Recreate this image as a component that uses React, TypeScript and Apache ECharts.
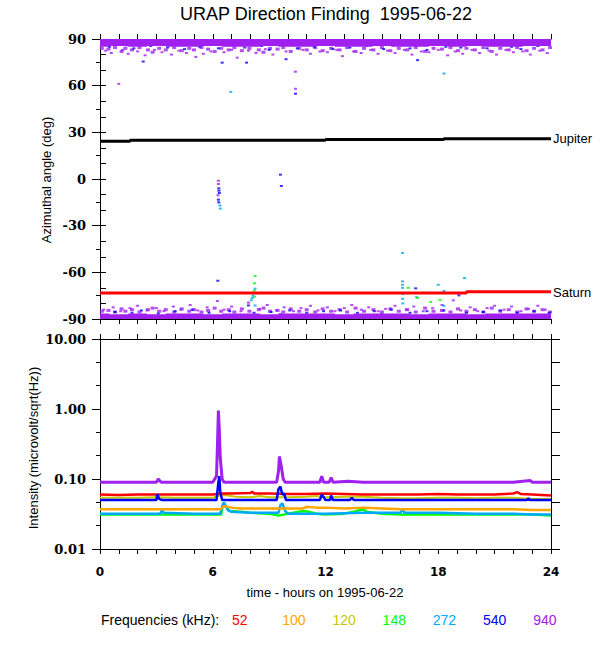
import React, { useEffect, useRef } from "react";
import * as echarts from "echarts";

// ---------------- data ----------------
const hourTicks = [0, 6, 12, 18, 24];
const freqLabels = ["52", "100", "120", "148", "272", "540", "940"];

// dense purple core near +90: lower edge of the band per hour
const topCoreEdge = [
  [0, 85], [1, 85.5], [2, 85], [3, 85.5], [4, 85], [5, 85], [6, 85.5], [7, 85], [8, 85],
  [9, 85.5], [10, 85], [11, 85], [12, 85.5], [13, 85], [14, 85], [15, 85.5], [16, 85],
  [17, 85], [18, 85.5], [19, 85], [20, 85.5], [21, 85], [22, 85], [23, 85.5], [24, 85.5],
];
// dense purple core near -90: upper edge of the band per hour
const botCoreEdge = [
  [0, -86.5], [1, -87], [2, -86.5], [3, -87], [4, -86.5], [5, -86.5], [6, -87], [7, -86.5],
  [8, -86.5], [9, -87], [10, -86.5], [11, -86.5], [12, -86.5], [13, -87], [14, -86.5],
  [15, -86.5], [16, -86.5], [17, -87], [18, -86.5], [19, -86.5], [20, -87], [21, -86.5],
  [22, -86.5], [23, -86.5], [24, -86.5],
];
const topPurpleNear = [
  [0.1, 84], [0.45, 83.5], [0.8, 84.5], [1.15, 82], [1.35, 84], [1.7, 83], [2.1, 84.5],
  [2.55, 83], [2.8, 81.5], [3.15, 84], [3.5, 83], [3.95, 84.5], [4.35, 82.5], [4.75, 84],
  [5.0, 83], [5.4, 84.5], [5.75, 83.5], [6.1, 82], [6.45, 84], [6.85, 83], [7.15, 84.5],
  [7.55, 82.5], [7.95, 84], [8.45, 83], [8.7, 81.5], [9.05, 84], [9.45, 83.5], [9.75, 84.5],
  [10.15, 82], [10.6, 84], [11.0, 83], [11.45, 84.5], [11.85, 82.5], [12.3, 84], [12.75, 83],
  [13.15, 84.5], [13.6, 82], [14.05, 84], [14.55, 83], [15.0, 84.5], [15.45, 82.5], [15.9, 84],
  [16.35, 83], [16.8, 84.5], [17.3, 82], [17.75, 84], [18.2, 83.5], [18.65, 84.5], [19.05, 82.5],
  [19.5, 84], [19.95, 83], [20.4, 84.5], [20.85, 82], [21.3, 84], [21.75, 83], [22.2, 84.5],
  [22.7, 82.5], [23.1, 84], [23.55, 83], [23.95, 84.5],
];
const topPurpleFringe = [
  [0.3, 82.5], [0.6, 81], [1.0, 61.2], [1.2, 83], [1.5, 80.5], [2.0, 82], [2.4, 79.5], [2.9, 83],
  [3.3, 81.5], [3.8, 80], [4.2, 82.5], [4.6, 81], [5.1, 78.5], [5.5, 80.5], [5.9, 82], [6.6, 81.5],
  [7.0, 83], [7.3, 78], [7.9, 82.5], [8.3, 81], [8.8, 83.5], [9.2, 80], [9.9, 82], [10.4, 69],
  [10.4, 58], [10.8, 83], [11.2, 80.5], [11.7, 82], [12.1, 81.5], [12.6, 83], [12.9, 79],
  [13.5, 82], [13.9, 81], [14.4, 83], [14.8, 80.5], [15.3, 82.5], [15.7, 81], [16.2, 83],
  [16.6, 80], [17.1, 82], [17.5, 81.5], [18.0, 83], [18.5, 79.5], [18.9, 82], [19.3, 80.5],
  [19.8, 83], [20.2, 81], [20.7, 82.5], [21.1, 80], [21.6, 83], [22.0, 81.5], [22.5, 82],
  [22.9, 80], [23.4, 82.5], [23.8, 81],
];
const topBlue = [
  [0.2, 87], [0.5, 85], [0.9, 88.5], [1.4, 86], [1.8, 84], [2.2, 87.5], [2.3, 75.5], [2.7, 85.5],
  [3.1, 88], [3.6, 84.5], [4.0, 86.5], [4.5, 83.5], [4.9, 88], [5.3, 85], [5.8, 87], [6.3, 84],
  [6.5, 74.8], [6.8, 86], [7.2, 88.5], [7.7, 84.5], [7.8, 74.8], [8.1, 87], [8.6, 85.5],
  [9.0, 83], [9.4, 88], [9.9, 77], [10.0, 86], [10.4, 54.8], [10.5, 84], [10.9, 87.5],
  [11.4, 85], [11.9, 88], [12.4, 83.5], [12.8, 86.5], [13.3, 84.5], [13.7, 88], [14.2, 85.5],
  [14.7, 87], [15.1, 83.5], [15.6, 86], [16.0, 88.5], [16.5, 84], [16.9, 76.4], [17.0, 86.5],
  [17.4, 83], [17.9, 87.5], [18.4, 85], [18.8, 88], [19.2, 84.5], [19.7, 86.5], [20.1, 88],
  [20.6, 84], [21.0, 86], [21.5, 87.5], [21.9, 85], [22.4, 83.5], [22.8, 87], [23.3, 85.5],
  [23.7, 88],
];
const botPurpleNear = [
  [0.1, -85], [0.45, -84.5], [0.8, -85.5], [1.15, -83.5], [1.35, -85], [1.7, -84], [2.1, -85.5],
  [2.55, -84], [2.8, -83], [3.15, -85], [3.5, -84], [3.95, -85.5], [4.35, -83.5], [4.75, -85],
  [5.0, -84], [5.4, -85.5], [5.75, -84.5], [6.1, -83], [6.45, -85], [6.85, -84], [7.15, -85.5],
  [7.55, -83.5], [7.95, -85], [8.45, -84], [8.7, -83], [9.05, -85], [9.45, -84.5], [9.75, -85.5],
  [10.15, -83.5], [10.6, -85], [11.0, -84], [11.45, -85.5], [11.85, -83.5], [12.3, -85],
  [12.75, -84], [13.15, -85.5], [13.6, -83], [14.05, -85], [14.55, -84], [15.0, -85.5],
  [15.45, -83.5], [15.9, -85], [16.35, -84], [16.8, -85.5], [17.3, -83], [17.75, -85],
  [18.2, -84.5], [18.65, -85.5], [19.05, -83.5], [19.5, -85], [19.95, -84], [20.4, -85.5],
  [20.85, -83], [21.3, -85], [21.75, -84], [22.2, -85.5], [22.7, -83.5], [23.1, -85],
  [23.55, -84], [23.95, -85.5],
];
const botPurpleFringe = [
  [0.2, -84], [0.7, -82.5], [1.1, -85], [1.6, -83], [2.0, -81.5], [2.5, -84.5], [3.0, -83],
  [3.4, -85], [3.9, -82], [4.3, -84], [4.8, -81], [5.2, -84.5], [5.7, -82.5], [6.25, -78.4],
  [6.6, -84], [7.0, -82], [7.5, -85], [7.9, -79.5], [8.5, -83.5], [8.9, -81], [9.4, -84.5],
  [9.8, -82.5], [10.3, -85], [10.7, -83], [11.2, -81.5], [11.6, -84.5], [12.1, -82.5],
  [12.5, -85], [13.0, -83], [13.4, -81], [13.9, -84], [14.3, -82.5], [14.8, -85], [15.2, -83.5],
  [15.7, -81.5], [16.3, -84], [16.7, -82], [17.2, -85], [17.7, -83], [18.2, -81], [18.8, -78],
  [19.2, -84.5], [19.7, -82.5], [20.1, -85], [20.6, -83], [21.0, -81.5], [21.5, -84],
  [21.9, -82], [22.4, -85], [22.8, -83.5], [23.3, -81.5], [23.7, -84],
];
const botBlue = [
  [0.3, -87.5], [0.8, -85.5], [1.3, -88.5], [1.7, -86], [2.2, -84.5], [2.6, -88], [3.1, -86.5],
  [3.5, -89], [4.0, -85], [4.4, -87.5], [4.9, -84], [5.4, -88], [5.8, -86], [6.27, -65.4],
  [6.4, -88.5], [6.9, -85], [7.3, -87.5], [7.9, -81.3], [8.2, -86], [8.7, -88.5], [9.1, -85.5],
  [9.6, -87], [10.1, -84.5], [10.5, -88], [11.0, -86], [11.4, -89], [11.9, -85], [12.3, -87.5],
  [12.8, -84.5], [13.2, -88], [13.7, -86], [14.1, -88.5], [14.6, -85], [15.0, -87], [15.5, -84],
  [16.0, -88], [16.5, -86], [16.8, -70.3], [17.0, -88.5], [17.4, -85], [17.9, -87.5],
  [18.3, -84.5], [18.7, -88], [19.1, -74.8], [19.5, -86], [20.0, -88.5], [20.4, -85.5],
  [20.9, -87.5], [21.3, -84.5], [21.8, -88], [22.2, -86], [22.7, -88.5], [23.1, -85],
  [23.6, -87.5], [23.9, -86],
];
const midPurple = [[6.3, -1.1], [6.3, -3.2], [6.28, -10.5]];
const midBlue = [
  [6.32, -6], [6.33, -7.5], [6.35, -9], [6.3, -13.3], [6.32, -15], [9.6, 2.8], [9.65, -4.5],
];
const cyanPoints = [
  [6.96, 56], [18.3, 67.8], [6.38, -17], [6.4, -19], [8.05, -78], [8.1, -76.5], [8.15, -75],
  [8.25, -70.5], [8.25, -81.3], [16.1, -47.6], [16.1, -65.8], [16.1, -68], [16.1, -70],
  [16.12, -74], [16.1, -77], [16.12, -80], [16.85, -76], [18.0, -68], [18.3, -72], [19.4, -63.7],
  [18.3, -81.5],
];
const greenPoints = [
  [8.25, -62.4], [8.22, -67], [8.22, -71.7], [8.22, -75.7], [16.4, -70], [17.2, -73],
  [16.9, -76.4], [17.6, -79], [18.1, -77.7],
];
const jupiter = [
  [0, 24.2], [1.6, 24.2], [1.6, 24.9], [12, 24.9], [12, 25.4], [18.3, 25.4], [18.3, 25.9], [24, 25.9],
];
const saturn = [[0, -73.3], [19.5, -73.3], [19.5, -72.5], [24, -72.5]];

// intensity series (microvolt/sqrt(Hz))
const f52 = [
  [0, 0.06], [1, 0.059], [2, 0.06], [3, 0.06], [4, 0.06], [5, 0.06], [6, 0.06], [6.5, 0.062],
  [7, 0.062], [8, 0.063], [8.1, 0.066], [8.2, 0.062], [9, 0.062], [10, 0.061], [11, 0.061],
  [12, 0.062], [13, 0.061], [14, 0.06], [15, 0.06], [16, 0.06], [17, 0.06], [18, 0.061],
  [19, 0.06], [20, 0.06], [21, 0.06], [22, 0.062], [22.2, 0.065], [22.4, 0.061], [23, 0.06],
  [23.5, 0.059], [24, 0.058],
];
const f100 = [
  [0, 0.037], [2, 0.037], [3, 0.037], [4, 0.037], [5, 0.037], [6, 0.037], [6.4, 0.037],
  [6.6, 0.041], [7, 0.039], [7.5, 0.038], [8, 0.038], [9, 0.038], [10, 0.038], [10.8, 0.038],
  [11, 0.04], [11.5, 0.039], [12, 0.039], [13, 0.038], [14, 0.039], [15, 0.038], [16, 0.037],
  [17, 0.037], [18, 0.037], [19, 0.037], [20, 0.037], [21, 0.037], [22, 0.037], [23, 0.036],
  [24, 0.036],
];
const f120 = [
  [0, 0.054], [2, 0.054], [3, 0.055], [4, 0.054], [5, 0.054], [6, 0.054], [6.5, 0.059],
  [6.8, 0.058], [7.2, 0.056], [8, 0.055], [8.5, 0.057], [9, 0.055], [10, 0.055], [11, 0.056],
  [11.5, 0.057], [12, 0.055], [13, 0.056], [14, 0.056], [15, 0.054], [16, 0.053], [17, 0.053],
  [18, 0.054], [19, 0.054], [20, 0.053], [21, 0.054], [22, 0.054], [23, 0.052], [24, 0.052],
];
const f148 = [
  [0, 0.031], [2, 0.031], [4, 0.031], [6, 0.031], [6.45, 0.031], [6.55, 0.045], [6.7, 0.04],
  [6.9, 0.035], [7.5, 0.034], [8, 0.033], [9, 0.032], [9.5, 0.03], [10, 0.032], [10.8, 0.035],
  [11.1, 0.034], [11.5, 0.032], [12, 0.031], [13, 0.032], [13.5, 0.034], [14, 0.037],
  [14.2, 0.034], [15, 0.032], [16, 0.031], [18, 0.031], [20, 0.031], [22, 0.031], [23, 0.031],
  [24, 0.03],
];
const f272 = [
  [0, 0.032], [2, 0.032], [3.2, 0.032], [3.3, 0.036], [3.4, 0.033], [5, 0.032], [6.4, 0.032],
  [6.5, 0.04], [6.6, 0.046], [6.8, 0.036], [7, 0.034], [8, 0.033], [9, 0.033], [9.5, 0.033],
  [9.6, 0.042], [9.7, 0.045], [9.85, 0.035], [10, 0.032], [12, 0.032], [14, 0.033], [16, 0.033],
  [16.1, 0.037], [16.2, 0.033], [18, 0.033], [20, 0.032], [22, 0.032], [23, 0.031], [24, 0.031],
];
const f540 = [
  [0, 0.05], [3, 0.05], [3.05, 0.06], [3.15, 0.052], [3.3, 0.05], [6.2, 0.05], [6.3, 0.09],
  [6.35, 0.11], [6.4, 0.065], [6.5, 0.05], [9.4, 0.05], [9.5, 0.072], [9.6, 0.078], [9.7, 0.06],
  [9.8, 0.062], [9.9, 0.05], [11.7, 0.05], [11.8, 0.06], [11.9, 0.055], [12.0, 0.05],
  [12.25, 0.05], [12.3, 0.058], [12.4, 0.05], [13.3, 0.05], [13.4, 0.054], [13.5, 0.05],
  [15.9, 0.05], [22.7, 0.05], [22.8, 0.053], [22.9, 0.05], [24, 0.05],
];
const f940 = [
  [0, 0.09], [1, 0.09], [2, 0.09], [3, 0.09], [3.1, 0.1], [3.25, 0.09], [4, 0.09], [5, 0.09],
  [6.0, 0.09], [6.2, 0.11], [6.25, 0.3], [6.3, 0.95], [6.35, 0.5], [6.4, 0.2], [6.5, 0.1],
  [6.6, 0.09], [8, 0.09], [9.4, 0.09], [9.5, 0.13], [9.55, 0.21], [9.65, 0.15], [9.75, 0.1],
  [9.85, 0.09], [11.7, 0.09], [11.8, 0.11], [11.9, 0.09], [12.2, 0.09], [12.3, 0.105],
  [12.4, 0.09], [13.2, 0.093], [14, 0.09], [16, 0.09], [18, 0.09], [20, 0.09], [22, 0.09],
  [22.9, 0.095], [23, 0.09], [24, 0.09],
];

// ---------------- styling ----------------
const C = {
  red: "#ff0000",
  orange: "#ffa500",
  yellow: "#c8c800",
  green: "#00ff00",
  cyan: "#00a8ff",
  blue: "#0000ff",
  purple: "#a020f0",
};
const freqColors = [C.red, C.orange, C.yellow, C.green, C.cyan, C.blue, C.purple];
const SANS = "Liberation Sans, Arial, sans-serif";
const SERIF = "DejaVu Serif, serif";

const G0 = { left: 100, top: 39, width: 451, height: 280 };
const G1 = { left: 100, top: 339, width: 451, height: 210 };

export default function App() {
  const ref = useRef<HTMLDivElement>(null);
  useEffect(() => {
    if (!ref.current) return;
    const chart = echarts.init(ref.current, null, { renderer: "svg" });
    const line = { color: "#000", width: 1 };
    const xBase = (grid: number, pos: "top" | "bottom", labels: boolean) => ({
      type: "value",
      gridIndex: grid,
      position: pos,
      min: 0,
      max: 24,
      interval: 6,
      axisLine: { show: true, onZero: false, lineStyle: line },
      axisTick: { show: true, length: 5, lineStyle: line },
      minorTick: { show: true, splitNumber: 6, length: 5, lineStyle: line },
      splitLine: { show: false },
      minorSplitLine: { show: false },
      axisLabel: {
        show: labels,
        color: "#000",
        fontFamily: "DejaVu Sans, sans-serif",
        fontWeight: "bold",
        fontSize: 12,
        margin: 17,
        formatter: (v: number) => (hourTicks.includes(v) ? String(v) : ""),
      },
    });
    const dots = (data: number[][], color: string, size: number[] = [3, 2]) => ({
      type: "scatter",
      xAxisIndex: 0,
      yAxisIndex: 0,
      data,
      symbol: "rect",
      symbolSize: size,
      itemStyle: { color },
      silent: true,
    });
    const intensity = (data: number[][], color: string, width = 2.5) => ({
      type: "line",
      xAxisIndex: 2,
      yAxisIndex: 2,
      data,
      showSymbol: false,
      symbol: "none",
      lineStyle: { color, width },
      silent: true,
    });
    const txt = (text: string, x: number, y: number, size: number, fill = "#000", align = "center", rot = 0) => ({
      type: "text",
      x,
      y,
      rotation: rot,
      style: {
        text,
        fontFamily: SANS,
        fontSize: size,
        fill,
        textAlign: align,
        textVerticalAlign: "middle",
      },
    });

    const option: any = {
      animation: false,
      backgroundColor: "#fff",
      grid: [
        { ...G0, containLabel: false },
        { ...G1, containLabel: false },
      ],
      xAxis: [
        xBase(0, "bottom", false),
        xBase(0, "top", false),
        xBase(1, "bottom", true),
        xBase(1, "top", false),
      ],
      yAxis: [
        {
          type: "value",
          gridIndex: 0,
          position: "left",
          min: -90,
          max: 90,
          interval: 30,
          axisLine: { show: true, lineStyle: line },
          axisTick: { show: true, length: 8, lineStyle: line },
          minorTick: { show: true, splitNumber: 2, length: 4, lineStyle: line },
          splitLine: { show: false },
          axisLabel: {
            color: "#000",
            fontFamily: SERIF,
            fontWeight: "bold",
            fontSize: 13,
            margin: 14,
          },
        },
        {
          type: "value",
          gridIndex: 0,
          position: "right",
          min: -90,
          max: 90,
          interval: 10,
          axisLine: { show: true, lineStyle: line },
          axisTick: { show: true, length: 6, lineStyle: line },
          splitLine: { show: false },
          axisLabel: { show: false },
        },
        {
          type: "log",
          logBase: 10,
          gridIndex: 1,
          position: "left",
          min: 0.01,
          max: 10,
          axisLine: { show: true, lineStyle: line },
          axisTick: { show: true, length: 8, lineStyle: line },
          minorTick: { show: false },
          splitLine: { show: false },
          axisLabel: {
            color: "#000",
            fontFamily: SERIF,
            fontWeight: "bold",
            fontSize: 13,
            margin: 14,
            formatter: (v: number) => v.toFixed(2),
          },
        },
        {
          // thirds-of-a-decade minor ticks on the left (exponent space)
          type: "value",
          gridIndex: 1,
          position: "left",
          min: -2,
          max: 1,
          interval: 1,
          axisLine: { show: false },
          axisTick: { show: false },
          minorTick: { show: true, splitNumber: 3, length: 4, lineStyle: line },
          splitLine: { show: false },
          axisLabel: { show: false },
        },
        {
          type: "value",
          gridIndex: 1,
          position: "right",
          min: -2,
          max: 1,
          interval: 1,
          axisLine: { show: true, lineStyle: line },
          axisTick: { show: true, length: 9, lineStyle: line },
          minorTick: { show: true, splitNumber: 3, length: 9, lineStyle: line },
          splitLine: { show: false },
          axisLabel: { show: false },
        },
      ],
      series: [
        {
          type: "line",
          xAxisIndex: 0,
          yAxisIndex: 0,
          data: topCoreEdge,
          step: "middle",
          symbol: "none",
          lineStyle: { width: 0, color: C.purple },
          areaStyle: { color: C.purple, opacity: 1, origin: "end" },
          silent: true,
        },
        {
          type: "line",
          xAxisIndex: 0,
          yAxisIndex: 0,
          data: botCoreEdge,
          step: "middle",
          symbol: "none",
          lineStyle: { width: 0, color: C.purple },
          areaStyle: { color: C.purple, opacity: 1, origin: "start" },
          silent: true,
        },
        dots(topPurpleNear, C.purple, [4, 3]),
        dots(botPurpleNear, C.purple, [4, 3]),
        dots(topPurpleFringe, C.purple),
        dots(botPurpleFringe, C.purple),
        dots(topBlue, C.blue),
        dots(botBlue, C.blue),
        dots(midPurple, C.purple),
        dots(midBlue, C.blue),
        {
          type: "line",
          xAxisIndex: 0,
          yAxisIndex: 0,
          data: jupiter,
          symbol: "none",
          lineStyle: { color: "#000", width: 3 },
          silent: true,
        },
        {
          type: "line",
          xAxisIndex: 0,
          yAxisIndex: 0,
          data: saturn,
          symbol: "none",
          lineStyle: { color: C.red, width: 3 },
          silent: true,
        },
        dots(cyanPoints, C.cyan),
        dots(greenPoints, C.green),
        intensity(f120, C.yellow, 2),
        intensity(f148, C.green),
        intensity(f272, C.cyan),
        intensity(f100, C.orange),
        intensity(f52, C.red),
        intensity(f540, C.blue, 2.5),
        intensity(f940, C.purple, 3),
      ],
      graphic: [
        txt("URAP Direction Finding  1995-06-22", 326, 14, 18),
        txt("Azimuthal angle (deg)", 46, 180, 13, "#000", "center", Math.PI / 2),
        txt("Intensity (microvolt/sqrt(Hz))", 33, 448, 13, "#000", "center", Math.PI / 2),
        txt("time - hours on 1995-06-22", 325, 592, 13),
        txt("Jupiter", 553, 138, 13, "#000", "left"),
        txt("Saturn", 553, 292, 13, "#000", "left"),
        txt("Frequencies (kHz):", 101, 620, 14, "#000", "left"),
        ...freqLabels.map((t, i) => txt(t, 232 + i * 50.2, 620, 14, freqColors[i], "left")),
      ],
    };
    chart.setOption(option);
    return () => chart.dispose();
  }, []);
  return (
    <div
      ref={ref}
      style={{ position: "absolute", left: 0, top: 0, width: 600, height: 650, background: "#fff" }}
    />
  );
}
